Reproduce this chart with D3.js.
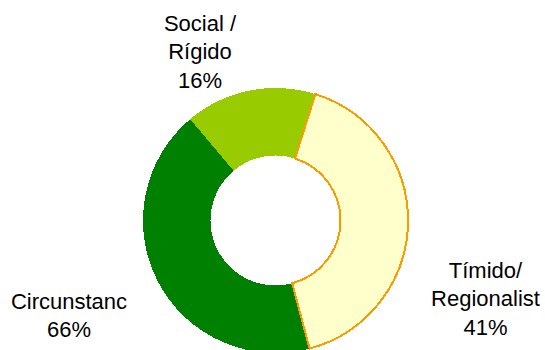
<!DOCTYPE html>
<html>
<head>
<meta charset="utf-8">
<script src="https://cdn.jsdelivr.net/npm/d3@7"></script>
<style>
  html, body { margin: 0; padding: 0; background: #ffffff; }
  svg { display: block; }
</style>
</head>
<body>
<svg id="chart" width="545" height="350"></svg>
<script>
// ---- data ----
const categories = ["Tímido/\nRegionalist", "Circunstanc", "Social /\nRígido"];
const values = [41, 43, 16];
const valueLabels = ["41%", "66%", "16%"];
const colors = ["#FFFFCC", "#008000", "#99CC00"];
const strokes = ["#FF9900", "none", "none"];

// ---- layout ----
const W = 545, H = 350;
const cx = 275.5, cy = 220.5;
const outerR = 132.5, innerR = 65;
const startDeg = 17.5;
const labelPos = [
  { x: 485.5, y: 278 },  // Tímido
  { x: 69,  y: 309 },    // Circunstanc
  { x: 200, y: 31 }      // Social
];
const fontSize = 22;
const lineH = 28.3;

const data = categories.map((c, i) => ({ cat: c, value: values[i], label: valueLabels[i], color: colors[i], stroke: strokes[i], i }));

const svg = d3.select("#chart");
const g = svg.append("g").attr("transform", `translate(${cx},${cy})`);

const start = startDeg * Math.PI / 180;
const pie = d3.pie().value(d => d.value).sort(null)
  .startAngle(start).endAngle(start + 2 * Math.PI);
const arc = d3.arc().innerRadius(innerR).outerRadius(outerR);

const arcs = pie(data);
// draw non-stroked first, stroked last
const ordered = arcs.slice().sort((a, b) => (a.data.stroke === "none" ? 0 : 1) - (b.data.stroke === "none" ? 0 : 1));
g.selectAll("path.slice").data(ordered).join("path")
  .attr("class", "slice")
  .attr("d", arc)
  .attr("fill", d => d.data.color)
  .attr("stroke", d => d.data.stroke)
  .attr("stroke-width", d => d.data.stroke === "none" ? 0 : 2)
  .attr("shape-rendering", "crispEdges");

// labels
const lbl = svg.selectAll("text.lbl").data(data).join("text")
  .attr("class", "lbl")
  .attr("text-anchor", "middle")
  .attr("font-family", "'Liberation Sans', Arial, sans-serif")
  .attr("font-size", fontSize)
  .attr("fill", "#000");
lbl.each(function(d, i) {
  const lines = d.cat.split("\n").concat([d.label]);
  const t = d3.select(this);
  lines.forEach((ln, k) => {
    t.append("tspan")
      .attr("x", labelPos[i].x)
      .attr("y", labelPos[i].y + k * lineH)
      .text(ln);
  });
});
</script>
</body>
</html>
